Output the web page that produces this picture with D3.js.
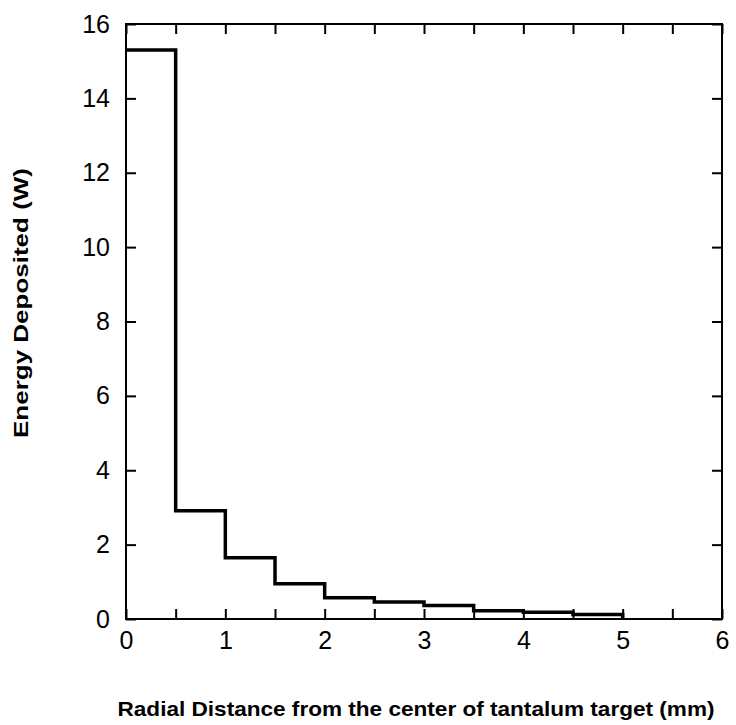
<!DOCTYPE html>
<html>
<head>
<meta charset="utf-8">
<script src="https://cdn.jsdelivr.net/npm/d3@7"></script>
<style>
  body { margin: 0; background: #fff; }
  text { font-family: "Liberation Sans", Arial, sans-serif; }
</style>
</head>
<body>
<div id="chart"></div>
<script>
// Bin edges (mm) and energy per bin (W)
const binStarts = [0, 0.5, 1, 1.5, 2, 2.5, 3, 3.5, 4, 4.5];
const binWidth = 0.5;
const energy = [15.3, 2.91, 1.65, 0.95, 0.57, 0.46, 0.36, 0.22, 0.18, 0.12];

const xTicks = [0, 0.5, 1, 1.5, 2, 2.5, 3, 3.5, 4, 4.5, 5, 5.5, 6];
const xLabels = [0, 1, 2, 3, 4, 5, 6];
const yTicks = [0, 2, 4, 6, 8, 10, 12, 14, 16];

const margin = {top: 24, right: 14, bottom: 106, left: 126},
    width = 736 - margin.left - margin.right,
    height = 725 - margin.top - margin.bottom;

const svg = d3.select("#chart")
  .append("svg")
    .attr("width", 736)
    .attr("height", 725)
  .append("g")
    .attr("transform", `translate(${margin.left},${margin.top})`);

const x = d3.scaleLinear().domain([0, 6]).range([0, width]);
const y = d3.scaleLinear().domain([0, 16]).range([height, 0]);

// inward ticks on all four sides
const tickLen = 10;
function styleAxis(g) {
  g.select(".domain").remove();
  g.selectAll(".tick line").attr("stroke", "#000").attr("stroke-width", 2);
  g.selectAll(".tick text")
    .style("font-size", "25px")
    .style("font-family", "'Liberation Sans', Arial, sans-serif")
    .attr("fill", "#000");
}

svg.append("g")
  .attr("transform", `translate(0,${height})`)
  .call(d3.axisBottom(x).tickValues(xTicks).tickSize(-tickLen).tickPadding(12)
    .tickFormat(d => xLabels.includes(d) ? d : ""))
  .call(styleAxis);

svg.append("g")
  .call(d3.axisTop(x).tickValues(xTicks).tickSize(-tickLen).tickFormat(""))
  .call(styleAxis);

svg.append("g")
  .call(d3.axisLeft(y).tickValues(yTicks).tickSize(-tickLen).tickPadding(16))
  .call(styleAxis);

svg.append("g")
  .attr("transform", `translate(${width},0)`)
  .call(d3.axisRight(y).tickValues(yTicks).tickSize(-tickLen).tickFormat(""))
  .call(styleAxis);

// frame
svg.append("rect")
  .attr("width", width)
  .attr("height", height)
  .attr("fill", "none")
  .attr("stroke", "#000")
  .attr("stroke-width", 2);

// step histogram
const pts = [];
binStarts.forEach((s, i) => {
  pts.push([s, energy[i]]);
  pts.push([s + binWidth, energy[i]]);
});
pts.push([binStarts[binStarts.length - 1] + binWidth, 0]);

svg.append("path")
  .datum(pts)
  .attr("fill", "none")
  .attr("stroke", "#000")
  .attr("stroke-width", 3.5)
  .attr("stroke-linejoin", "miter")
  .attr("d", d3.line().x(d => x(d[0])).y(d => y(d[1])));

// axis titles
svg.append("text")
  .attr("text-anchor", "middle")
  .attr("x", 416 - margin.left)
  .attr("y", 716 - margin.top)
  .attr("textLength", 597)
  .attr("lengthAdjust", "spacingAndGlyphs")
  .style("font-size", "21px")
  .style("font-weight", "bold")
  .text("Radial Distance from the center of tantalum target (mm)");

svg.append("text")
  .attr("text-anchor", "middle")
  .attr("transform", "rotate(-90)")
  .attr("x", -(303 - margin.top))
  .attr("y", 28 - margin.left)
  .attr("textLength", 270)
  .attr("lengthAdjust", "spacingAndGlyphs")
  .style("font-size", "21px")
  .style("font-weight", "bold")
  .text("Energy Deposited (W)");
</script>
</body>
</html>
